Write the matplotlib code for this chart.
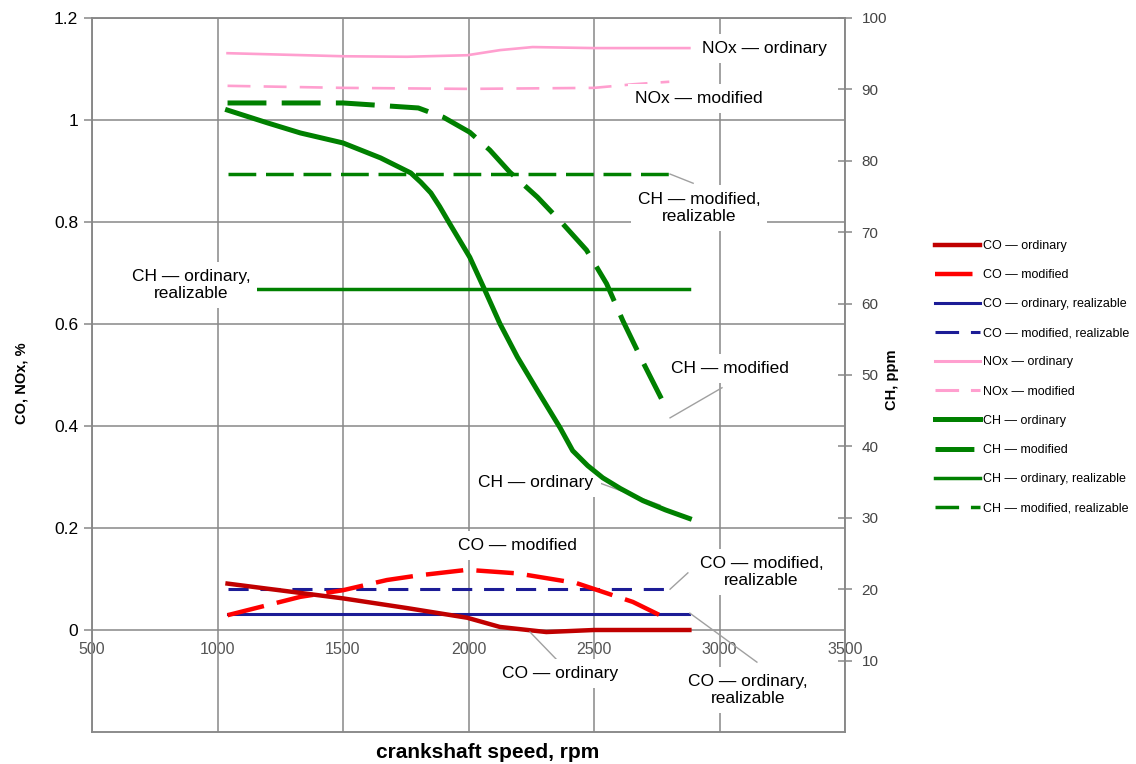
import matplotlib.pyplot as plt
from matplotlib.lines import Line2D

plt.rcParams['font.family'] = ['Liberation Sans', 'DejaVu Sans']
plt.rcParams['lines.scale_dashes'] = False
plt.rcParams['lines.solid_joinstyle'] = 'round'
plt.rcParams['lines.dash_joinstyle'] = 'round'

# crankshaft speed (rpm) and readings; CO, NOx in %, CH in ppm
rpm_co_ord = [1040, 1500, 1755, 1995, 2125, 2310, 2500, 2880]
co_ord = [0.091, 0.062, 0.043, 0.024, 0.006, -0.004, 0.0, 0.0]

rpm_co_mod = [1040, 1330, 1500, 1675, 1800, 1995, 2195, 2430, 2655, 2800]
co_mod = [0.029, 0.065, 0.078, 0.098, 0.107, 0.118, 0.111, 0.092, 0.055, 0.020]

rpm_co_ord_real = [1040, 2880]
co_ord_real = [0.031, 0.031]
rpm_co_mod_real = [1040, 2800]
co_mod_real = [0.080, 0.080]

rpm_nox_ord = [1040, 1500, 1755, 1995, 2125, 2255, 2500, 2880]
nox_ord = [1.131, 1.125, 1.124, 1.127, 1.137, 1.143, 1.141, 1.141]
rpm_nox_mod = [1040, 1500, 2000, 2500, 2655, 2800]
nox_mod = [1.067, 1.063, 1.061, 1.063, 1.070, 1.075]

rpm_ch_ord = [1040, 1200, 1330, 1500, 1650, 1770, 1810, 1850, 1885, 1925,
              2005, 2065, 2125, 2195, 2275, 2365, 2415, 2475, 2535, 2605,
              2695, 2785, 2880]
ch_ord = [87.1, 85.3, 83.9, 82.5, 80.4, 78.3, 77.0, 75.5, 73.6, 71.2,
          66.5, 61.9, 57.2, 52.5, 47.8, 42.6, 39.4, 37.3, 35.6, 34.1,
          32.4, 31.1, 29.9]
rpm_ch_mod = [1040, 1500, 1800, 1900, 2005, 2085, 2165, 2275, 2375, 2470,
              2550, 2615, 2695, 2790]
ch_mod = [88.1, 88.1, 87.4, 86.1, 84.0, 81.5, 78.4, 74.9, 71.2, 67.5,
          62.8, 57.6, 51.8, 45.2]

rpm_ch_ord_real = [1040, 2880]
ch_ord_real = [62.0, 62.0]
rpm_ch_mod_real = [1040, 2800]
ch_mod_real = [78.1, 78.1]

x_ticks = [500, 1000, 1500, 2000, 2500, 3000, 3500]
left_ticks = [0, 0.2, 0.4, 0.6, 0.8, 1.0, 1.2]
left_tick_labels = ['0', '0.2', '0.4', '0.6', '0.8', '1', '1.2']
right_ticks = [10, 20, 30, 40, 50, 60, 70, 80, 90, 100]

grey = '#888888'
red_dark = '#c00000'
red = '#ff0000'
navy = '#1c1c96'
pink = '#ff9fcf'
green = '#008000'

fig = plt.figure(figsize=(11.36, 7.64), dpi=100)
ax = fig.add_axes([92 / 1136, 32 / 764, 753 / 1136, 714 / 764])
ax.set_xlim(500, 3500)
ax.set_ylim(-0.2, 1.2)
ax.set_xticks(x_ticks)
ax.set_yticks(left_ticks)
ax.set_yticklabels(left_tick_labels)
ax.grid(True, color=grey, lw=1.1)
ax.set_axisbelow(True)
ax.tick_params(axis='x', bottom=False, labelbottom=False)
ax.tick_params(axis='y', direction='out', length=6, color=grey, width=1.1,
               labelsize=12.5, pad=4)
for s in ax.spines.values():
    s.set_color(grey)
    s.set_linewidth(1.1)

# x tick labels sit on the zero line
sec = ax.secondary_xaxis(0.2 / 1.4)
sec.set_xticks(x_ticks)
sec.tick_params(length=0, labelsize=11.5, labelcolor='#555555', pad=9)
sec.spines['bottom'].set_visible(False)

ax2 = ax.twinx()
ax2.set_ylim(0, 100)
ax2.set_yticks(right_ticks)
ax2.tick_params(axis='y', direction='inout', length=10, color=grey, width=1.1,
                labelsize=11, labelcolor='#444444', pad=7)
for s in ax2.spines.values():
    s.set_color(grey)
    s.set_linewidth(1.1)

# CO and NOx on the left axis
ax.plot(rpm_nox_ord, nox_ord, color=pink, lw=1.9, zorder=3)
ax.plot(rpm_nox_mod, nox_mod, color=pink, lw=1.9, dashes=(16.5, 9.5), zorder=3)
ax.plot(rpm_co_ord_real, co_ord_real, color=navy, lw=2.2, zorder=3)
ax.plot(rpm_co_mod_real, co_mod_real, color=navy, lw=2.2, dashes=(14.5, 8.5), zorder=3)
ax.plot(rpm_co_mod, co_mod, color=red, lw=3.2, dashes=(27, 9.5), zorder=3)
ax.plot(rpm_co_ord, co_ord, color=red_dark, lw=3.2, zorder=3)

# CH on the right axis
ax2.plot(rpm_ch_ord_real, ch_ord_real, color=green, lw=2.5, zorder=3)
ax2.plot(rpm_ch_mod_real, ch_mod_real, color=green, lw=2.5, dashes=(20, 7), zorder=3)
ax2.plot(rpm_ch_mod, ch_mod, color=green, lw=3.6, dashes=(28, 11), zorder=3)
ax2.plot(rpm_ch_ord, ch_ord, color=green, lw=3.6, zorder=3)

# curve labels (left-axis coordinates)
box = dict(facecolor='white', edgecolor='none', pad=5)
labels = [
    ('NOx — ordinary', 2930, 1.141, 'left', 2.5),
    ('NOx — modified', 2918, 1.043, 'center', 2.5),
    ('CH — modified,\nrealizable', 2918, 0.827, 'center', 2.5),
    ('CH — ordinary,\nrealizable', 894, 0.676, 'center', 4),
    ('CH — modified', 3042, 0.512, 'center', 2.5),
    ('CH — ordinary', 2269, 0.290, 'center', 2.5),
    ('CO — modified', 2194, 0.165, 'center', 2.5),
    ('CO — modified,\nrealizable', 3167, 0.114, 'center', 2.5),
    ('CO — ordinary', 2365, -0.085, 'center', 2.5),
    ('CO — ordinary,\nrealizable', 3113, -0.118, 'center', 2.5),
]
for txt, x, y, ha, z in labels:
    ax2.text(x, y, txt, transform=ax.transData, fontsize=12.5, ha=ha,
             va='center', multialignment='center', bbox=box, zorder=z)

# leader lines
leaders = [
    ([2803, 2895], [0.894, 0.876]),
    ([2803, 3010], [0.416, 0.475]),
    ([2524, 2763], [0.288, 0.245]),
    ([2803, 2874], [0.080, 0.112]),
    ([2245, 2353], [-0.004, -0.059]),
    ([2882, 3149], [0.033, -0.063]),
]
for lx, ly in leaders:
    ax2.plot(lx, ly, color='#a0a0a0', lw=1, transform=ax.transData, zorder=2)

fig.text(22 / 1136, 1 - 383 / 764, 'CO, NOx, %', rotation=90, fontsize=10.5,
         fontweight='bold', ha='center', va='center')
fig.text(892 / 1136, 1 - 380 / 764, 'CH, ppm', rotation=90, fontsize=10.5,
         fontweight='bold', ha='center', va='center')
fig.text(488 / 1136, 1 - 752 / 764, 'crankshaft speed, rpm', fontsize=15,
         fontweight='bold', ha='center', va='center')

legend_items = [
    ('CO — ordinary', dict(color=red_dark, lw=3.2)),
    ('CO — modified', dict(color=red, lw=3.2, dashes=(27, 9.5))),
    ('CO — ordinary, realizable', dict(color=navy, lw=2.2)),
    ('CO — modified, realizable', dict(color=navy, lw=2.2, dashes=(17, 8.5))),
    ('NOx — ordinary', dict(color=pink, lw=2.2)),
    ('NOx — modified', dict(color=pink, lw=2.2, dashes=(17, 8.5))),
    ('CH — ordinary', dict(color=green, lw=3.6)),
    ('CH — modified', dict(color=green, lw=3.6, dashes=(28, 11))),
    ('CH — ordinary, realizable', dict(color=green, lw=2.5)),
    ('CH — modified, realizable', dict(color=green, lw=2.5, dashes=(17, 8.5))),
]
handles = [Line2D([], [], **kw) for _, kw in legend_items]
fig.legend(handles, [t for t, _ in legend_items], loc='upper left',
           bbox_to_anchor=(935 / 1136, 1 - 240 / 764), frameon=False,
           fontsize=9, handlelength=3.6, handletextpad=0.25,
           labelspacing=1.37, borderpad=0, borderaxespad=0)

fig.savefig('out.png', dpi=100)
